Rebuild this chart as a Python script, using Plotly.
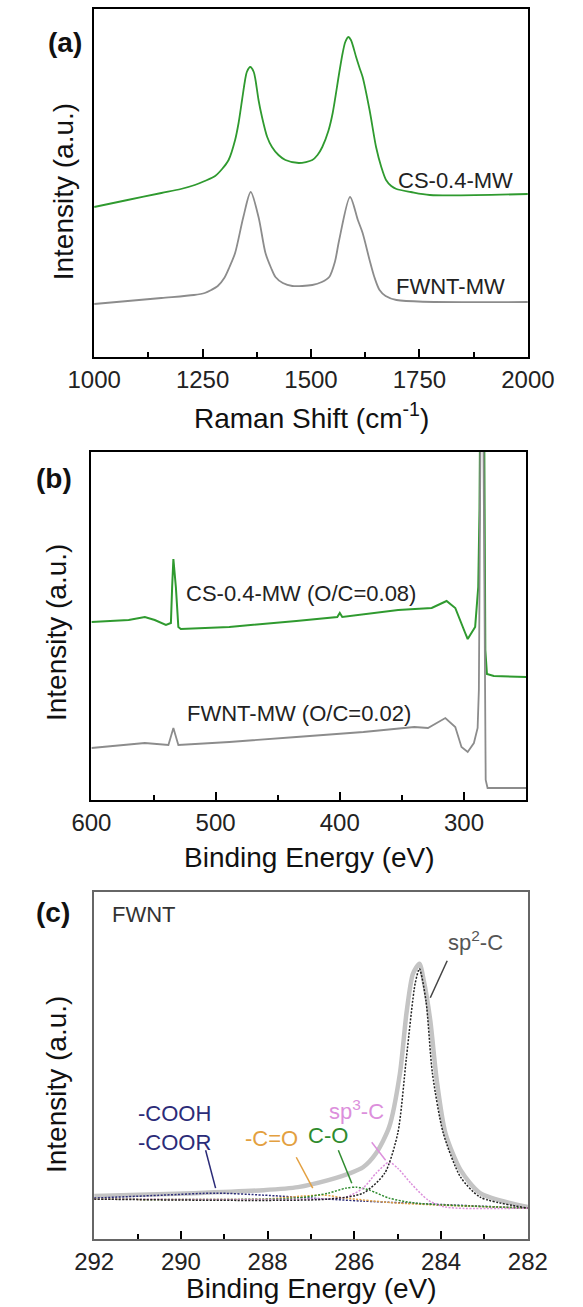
import plotly.graph_objects as go

# ---------------- Panel (a): Raman ----------------
raman_cs_x = [1000, 1077, 1155, 1200, 1232, 1255, 1279, 1295, 1310, 1325, 1333, 1341, 1348, 1352, 1360, 1368, 1372, 1379, 1387, 1399, 1410, 1425, 1441, 1472, 1503, 1515, 1526, 1540, 1550, 1565, 1573, 1579, 1586, 1592, 1604, 1612, 1619, 1635, 1650, 1662, 1673, 1685, 1697, 1730, 1774, 2000]
raman_cs_y = [150, 157, 164, 168, 172, 176, 181, 188, 197, 217, 234, 257, 277, 285, 290, 285, 277, 257, 240, 220, 210, 202, 197, 194, 197, 202, 210, 226, 244, 284, 304, 315, 320, 317, 300, 289, 280, 247, 210, 190, 177, 171, 168, 165, 162, 163]
raman_fw_x = [1000, 1155, 1230, 1255, 1270, 1285, 1300, 1312, 1325, 1344, 1361, 1379, 1395, 1408, 1418, 1435, 1457, 1503, 1525, 1542, 1555, 1565, 1590, 1608, 1619, 1635, 1646, 1658, 1672, 1697, 2000]
raman_fw_y = [53, 59, 62, 64, 67, 71, 79, 90, 104, 140, 165, 140, 104, 89, 80, 74, 71, 72, 75, 80, 95, 117, 160, 137, 124, 97, 80, 67, 61, 57, 55]
raman_labels = ["CS-0.4-MW", "FWNT-MW"]
raman_label_x = [1832, 1822]
raman_label_y = [177, 71]

# ---------------- Panel (b): XPS survey ----------------
xps_cs_x = [600, 570, 557, 549, 540, 536, 535, 534, 532, 530, 528, 489, 435, 402, 400, 398, 353, 326, 314, 307, 299, 297, 291, 288.5, 287.5, 286.5, 285.3, 284, 283.3, 282.8, 281.5, 276, 250]
xps_cs_y = [178, 180, 183, 180, 175, 177, 213, 241, 213, 173, 171, 173, 179, 183, 187, 183, 190, 192, 199, 192, 167, 161, 173, 213, 290, 450, 700, 450, 220, 150, 126, 124, 123]
xps_fw_x = [600, 557, 538, 534, 530, 489, 435, 381, 340, 329, 315, 307, 302, 297, 292, 289, 288, 287, 285.5, 284, 283.2, 282.5, 281, 250]
xps_fw_y = [52, 57, 55, 72, 55, 58, 63, 68, 73, 72, 82, 73, 53, 48, 57, 72, 110, 300, 600, 300, 60, 20, 12, 12]
xps_labels = ["CS-0.4-MW (O/C=0.08)", "FWNT-MW (O/C=0.02)"]
xps_label_x = [431, 433]
xps_label_y = [207, 87]

# ---------------- Panel (c): C1s fit ----------------
env_x = [292, 289.7, 288.1, 287.3, 286.6, 286.1, 285.8, 285.5, 285.2, 284.95, 284.8, 284.65, 284.5, 284.4, 284.25, 284.1, 283.9, 283.55, 283.1, 282]
env_y = [43, 46, 49, 52, 59, 66, 72, 86, 112, 166, 226, 266, 276, 259, 219, 159, 106, 69, 46, 32]
sp2_x = [292, 286.6, 285.8, 285.3, 285.0, 284.8, 284.6, 284.5, 284.35, 284.2, 283.95, 283.55, 283.1, 282]
sp2_y = [40, 40, 46, 66, 106, 182, 256, 271, 239, 166, 106, 62, 42, 31]
sp3_x = [292, 287, 286.2, 285.8, 285.5, 285.2, 285.0, 284.7, 284.3, 283.9, 282]
sp3_y = [40, 40, 42, 51, 66, 77, 71, 56, 39, 32, 31]
co_x = [292, 287.35, 286.6, 286.2, 285.95, 285.65, 285.2, 284.6, 282]
co_y = [40, 41, 46, 51, 52, 49, 41, 36, 31]
cdo_x = [292, 288.1, 287.2, 286.7, 286.2, 285.0, 282]
cdo_y = [40, 40, 43, 44, 41, 36, 31]
cooh_x = [292, 290.4, 289.2, 288.1, 287.0, 285.8, 282]
cooh_y = [41, 44, 46, 44, 41, 38, 31]

c_labels = ["FWNT", "sp<sup>2</sup>-C", "sp<sup>3</sup>-C", "C-O", "-C=O", "-COOH<br>-COOR"]
c_label_x = [291.64, 283.2, 285.95, 286.61, 287.9, 290.14]
c_label_y = [325, 299, 129, 104, 101, 111]
c_label_colors = ["#333333", "#555555", "#dc8fdc", "#2e8b2e", "#e3a040", "#2b2b78"]
# leader lines: (x0, y0) -> (x1, y1)
c_leader_x0 = [283.86, 285.6, 286.37, 287.34, 289.43]
c_leader_y0 = [279, 97, 89, 82, 89]
c_leader_x1 = [284.25, 285.28, 286.06, 286.96, 289.2]
c_leader_y1 = [242, 79, 56, 51, 51]
c_leader_colors = ["#444444", "#dc8fdc", "#2e8b2e", "#e3a040", "#2b2b78"]

FONT = "Liberation Sans, Arial, sans-serif"
W, H = 583, 1307
GREEN = "#2f9a2f"
GRAY = "#8c8c8c"

fig = go.Figure()

# panel a
fig.add_trace(go.Scatter(x=raman_cs_x, y=raman_cs_y, mode="lines", line=dict(color=GREEN, width=1.8, shape="spline", smoothing=0.8), xaxis="x", yaxis="y", showlegend=False))
fig.add_trace(go.Scatter(x=raman_fw_x, y=raman_fw_y, mode="lines", line=dict(color=GRAY, width=1.8, shape="spline", smoothing=0.8), xaxis="x", yaxis="y", showlegend=False))
# panel b
fig.add_trace(go.Scatter(x=xps_cs_x, y=xps_cs_y, mode="lines", line=dict(color=GREEN, width=2), xaxis="x2", yaxis="y2", showlegend=False))
fig.add_trace(go.Scatter(x=xps_fw_x, y=xps_fw_y, mode="lines", line=dict(color=GRAY, width=1.8), xaxis="x2", yaxis="y2", showlegend=False))
# panel c
fig.add_trace(go.Scatter(x=env_x, y=env_y, mode="lines", line=dict(color="#c4c4c4", width=4.5, shape="spline", smoothing=0.7), xaxis="x3", yaxis="y3", showlegend=False))
comp = [(cooh_x, cooh_y, "#2b2b78"), (cdo_x, cdo_y, "#e3a040"), (co_x, co_y, "#2e8b2e"), (sp3_x, sp3_y, "#dc8fdc"), (sp2_x, sp2_y, "#222222")]
for cx, cy, col in comp:
    fig.add_trace(go.Scatter(x=cx, y=cy, mode="lines", line=dict(color=col, width=1.5, dash="2px,1.5px", shape="spline", smoothing=0.7), xaxis="x3", yaxis="y3", showlegend=False))
for x0, y0, x1, y1, col in zip(c_leader_x0, c_leader_y0, c_leader_x1, c_leader_y1, c_leader_colors):
    fig.add_trace(go.Scatter(x=[x0, x1], y=[y0, y1], mode="lines", line=dict(color=col, width=1.5), xaxis="x3", yaxis="y3", showlegend=False))

def xax(domain, rng, tickvals, minor_dtick, tick0, anchor, lc="black"):
    return dict(domain=domain, range=rng, anchor=anchor, tickmode="array", tickvals=tickvals,
                ticks="inside", ticklen=8, tickwidth=1.5, tickcolor="black",
                minor=dict(ticks="inside", ticklen=5, tickwidth=1.5, tickcolor="black", dtick=minor_dtick, tick0=tick0),
                showline=True, mirror=True, linecolor=lc, linewidth=1.5,
                showgrid=False, zeroline=False, tickfont=dict(size=24, color="#222", family=FONT))

def yax(domain, anchor, lc="black"):
    return dict(domain=domain, range=[0, 348], anchor=anchor, showticklabels=False, ticks="",
                showline=True, mirror=True, linecolor=lc, linewidth=1.5, showgrid=False, zeroline=False)

def py(pix):
    return 1 - pix / H

def px(pix):
    return pix / W

fig.update_layout(
    width=W, height=H, margin=dict(l=0, r=0, t=0, b=0),
    paper_bgcolor="white", plot_bgcolor="white",
    font=dict(family=FONT, color="#222"),
    xaxis=xax([px(74), px(552)], [1000, 2000], [1000, 1250, 1500, 1750, 2000], 125, 1000, "y"),
    yaxis=yax([py(357), py(9)], "x"),
    xaxis2=xax([px(71), px(550)], [600, 250], [600, 500, 400, 300], 50, 0, "y2"),
    yaxis2=yax([py(800), py(452)], "x2"),
    xaxis3=xax([px(74), px(552)], [292, 282], [292, 290, 288, 286, 284, 282], 1, 0, "y3", lc="#666"),
    yaxis3=yax([py(1239), py(892)], "x3", lc="#666"),
)

ann = []
# panel labels
for t, x, y in [("(a)", 42, 43), ("(b)", 30, 478), ("(c)", 29, 912)]:
    ann.append(dict(text="<b>%s</b>" % t, x=px(x), y=py(y), xref="paper", yref="paper", showarrow=False, xanchor="center", yanchor="middle", font=dict(size=28, color="#111")))
# y titles
for x, y in [(40, 192), (32, 633), (32, 1085)]:
    ann.append(dict(text="Intensity (a.u.)", textangle=-90, x=px(x), y=py(y), xref="paper", yref="paper", showarrow=False, xanchor="center", yanchor="middle", font=dict(size=28, color="#111")))
# x titles
for t, x, y in [("Raman Shift (cm<sup>-1</sup>)", 313, 416), ("Binding Energy (eV)", 311, 858), ("Binding Energy (eV)", 313, 1288)]:
    ann.append(dict(text=t, x=px(x), y=py(y), xref="paper", yref="paper", showarrow=False, xanchor="center", yanchor="middle", font=dict(size=28, color="#111")))
# curve labels
for t, x, y in zip(raman_labels, raman_label_x, raman_label_y):
    ann.append(dict(text=t, x=x, y=y, xref="x", yref="y", showarrow=False, font=dict(size=22, color="#222")))
for t, x, y in zip(xps_labels, xps_label_x, xps_label_y):
    ann.append(dict(text=t, x=x, y=y, xref="x2", yref="y2", showarrow=False, font=dict(size=22, color="#222")))
for i, (t, x, y, c) in enumerate(zip(c_labels, c_label_x, c_label_y, c_label_colors)):
    a = dict(text=t, x=x, y=y, xref="x3", yref="y3", showarrow=False, font=dict(size=22, color=c))
    if i == 0:
        a["xanchor"] = "left"
    ann.append(a)
fig.update_layout(annotations=ann)

fig.write_html("out.html")
